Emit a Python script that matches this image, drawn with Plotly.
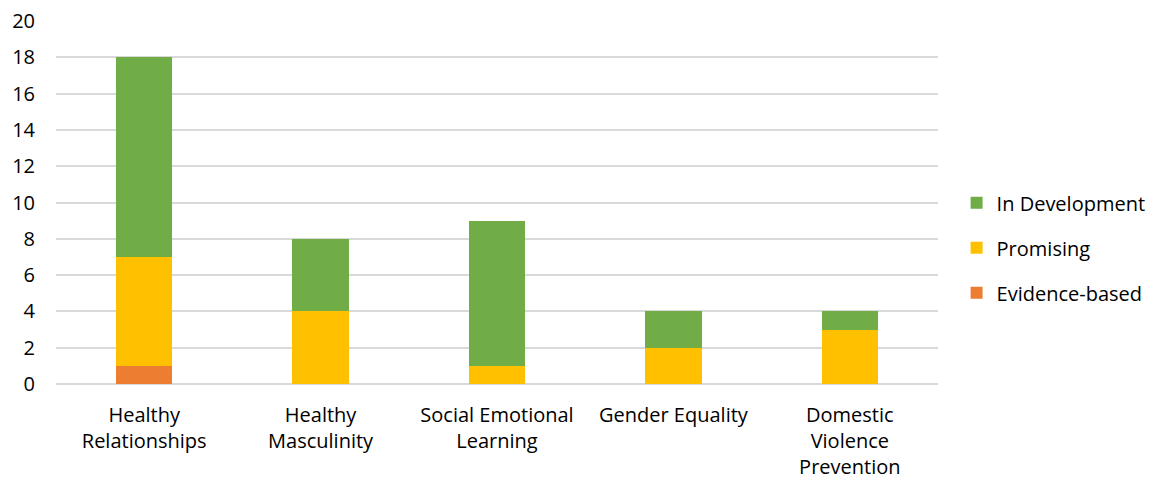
import plotly.graph_objects as go

categories = ["Healthy<br>Relationships", "Healthy<br>Masculinity", "Social Emotional<br>Learning",
              "Gender Equality", "Domestic<br>Violence<br>Prevention"]
evidence_based = [1, 0, 0, 0, 0]
promising = [6, 4, 1, 2, 3]
in_development = [11, 4, 8, 2, 1]
y_ticks = [0, 2, 4, 6, 8, 10, 12, 14, 16, 18, 20]

FONT = "Open Sans"

fig = go.Figure()
fig.add_trace(go.Bar(x=categories, y=evidence_based, name="Evidence-based", legendgroup="a",
                     legendrank=3, marker=dict(color="#ED7D31", line=dict(width=0))))
fig.add_trace(go.Bar(x=categories, y=promising, name="Promising", legendgroup="b",
                     legendrank=2, marker=dict(color="#FFC000", line=dict(width=0))))
fig.add_trace(go.Bar(x=categories, y=in_development, name="In Development", legendgroup="c",
                     legendrank=1, marker=dict(color="#70AD47", line=dict(width=0))))

fig.update_layout(
    barmode="stack",
    bargap=0.68,
    width=1156, height=483,
    margin=dict(l=56, r=218, t=21, b=99),
    paper_bgcolor="white", plot_bgcolor="white",
    font=dict(family=FONT, size=20, color="#000000"),
    legend=dict(traceorder="grouped", xref="container", yref="container",
                x=0.8275, y=0.487, xanchor="left", yanchor="middle",
                font=dict(family=FONT, size=20, color="#000000"),
                itemwidth=30, tracegroupgap=16),
    showlegend=True,
)
fig.update_xaxes(showgrid=False, showline=False, ticks="", tickfont=dict(size=20),
                 ticklabelstandoff=17, automargin=False)
fig.update_yaxes(range=[0, 20], tickvals=y_ticks, showgrid=True, gridcolor="#D9D9D9",
                 gridwidth=1.5, zeroline=True, zerolinecolor="#D9D9D9", zerolinewidth=1.5,
                 showline=False, ticks="", tickfont=dict(size=20), ticklabelstandoff=20,
                 automargin=False)

fig.write_html("out.html")
